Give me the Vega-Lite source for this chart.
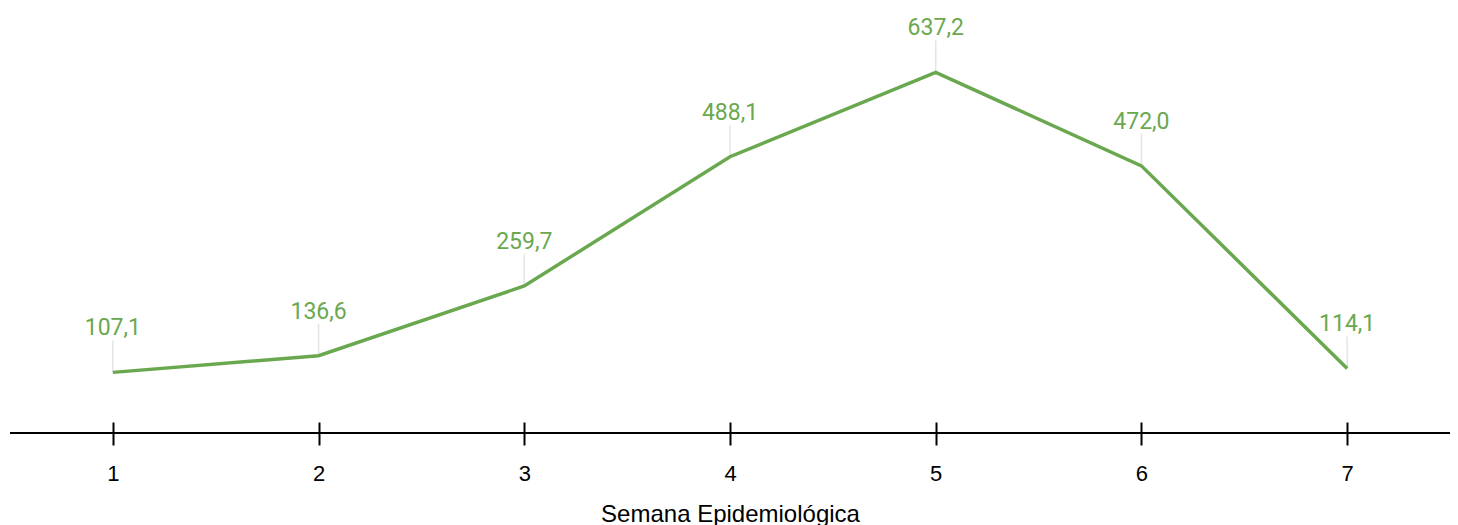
{
  "$schema": "https://vega.github.io/schema/vega-lite/v6.json",
  "width": 1440,
  "height": 433,
  "autosize": "none",
  "padding": {"left": 10, "top": 0, "right": 8, "bottom": 92},
  "config": {"view": {"stroke": null}},
  "data": {"values": [
    {"semana": 1, "valor": 107.1, "label": "107,1"},
    {"semana": 2, "valor": 136.6, "label": "136,6"},
    {"semana": 3, "valor": 259.7, "label": "259,7"},
    {"semana": 4, "valor": 488.1, "label": "488,1"},
    {"semana": 5, "valor": 637.2, "label": "637,2"},
    {"semana": 6, "valor": 472.0, "label": "472,0"},
    {"semana": 7, "valor": 114.1, "label": "114,1"}
  ]},
  "encoding": {
    "x": {"field": "semana", "type": "ordinal", "scale": {"type": "point", "padding": 0.5},
      "axis": {"title": "Semana Epidemiológica", "labelAngle": 0, "domain": false, "offset": -11, "tickSize": 23, "tickWidth": 2, "tickColor": "#000000", "labelFont": "Liberation Sans", "labelFontSize": 22, "labelColor": "#000000", "labelPadding": 18, "titleFont": "Liberation Sans", "titleFontSize": 24, "titleFontWeight": "normal", "titleColor": "#000000", "titlePadding": 18}},
    "y": {"field": "valor", "type": "quantitative", "scale": {"domain": [0, 765]}, "axis": null}
  },
  "layer": [
    {"mark": {"type": "rule", "color": "#000000", "strokeWidth": 2}, "encoding": {"x": {"value": 0}, "x2": {"value": 1440}, "y": {"datum": 0}}},
    {"mark": {"type": "tick", "orient": "vertical", "size": 32, "thickness": 1.5, "color": "#d9d9d9", "yOffset": -16}},
    {"mark": {"type": "line", "color": "#6aa84f", "strokeWidth": 3.5}},
    {"mark": {"type": "text", "font": "Roboto", "fontSize": 23, "color": "#6aa84f", "baseline": "alphabetic", "dy": -37}, "encoding": {"text": {"field": "label"}}}
  ]
}
